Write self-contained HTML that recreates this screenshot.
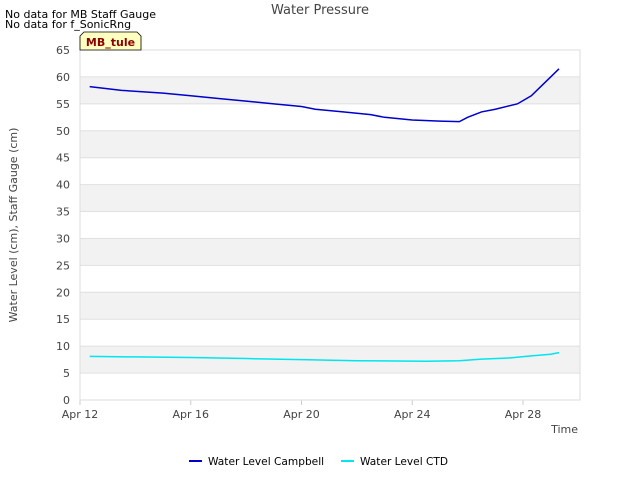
<!DOCTYPE html>
<html><head><meta charset="utf-8"><style>
body{margin:0;background:#fff;font-family:"Liberation Sans","DejaVu Sans",sans-serif}
svg text{font-family:"DejaVu Sans","Liberation Sans",sans-serif}
</style></head><body>
<svg width="640" height="480" viewBox="0 0 640 480">
<g id="bands"></g><g id="grid"></g><g id="series"></g><g id="axes"></g>
<text x="320" y="14" text-anchor="middle" font-size="13" fill="#444">Water Pressure</text>
<text x="5" y="18" font-size="11" fill="#000">No data for MB Staff Gauge</text>
<text x="5" y="28" font-size="11" fill="#000">No data for f_SonicRng</text>
<g>
<path d="M80,50 L80,36 L84,32 L137,32 L141,36 L141,50 Z" fill="#ffffc0" stroke="#000" stroke-width="0.8"/>
<text x="110.5" y="46" text-anchor="middle" font-size="11" font-weight="bold" fill="#8b0000">MB_tule</text>
</g>
<text transform="translate(17,225) rotate(-90)" text-anchor="middle" font-size="11" fill="#444">Water Level (cm), Staff Gauge (cm)</text>
<text x="578" y="433" text-anchor="end" font-size="11" fill="#444">Time</text>
<g><line x1="189" y1="461" x2="202" y2="461" stroke="#0000cc" stroke-width="2"/><text x="208" y="465" font-size="10.6" fill="#000">Water Level Campbell</text></g>
<g><line x1="341" y1="461" x2="354" y2="461" stroke="#00e5ee" stroke-width="2"/><text x="360" y="465" font-size="10.6" fill="#000">Water Level CTD</text></g>
</svg>
<script>
const xTickLabels=["Apr 12","Apr 16","Apr 20","Apr 24","Apr 28"];
const xTickDays=[12,16,20,24,28];
const yTicks=[0,5,10,15,20,25,30,35,40,45,50,55,60,65];
const campbellDays=[12.35,13.5,15,16,17,18,19,20,20.5,21.5,22.5,23,24,25,25.7,26,26.5,27,27.8,28.3,28.6,29,29.3];
const campbellVals=[58.2,57.5,57,56.5,56,55.5,55,54.5,54,53.5,53,52.5,52,51.8,51.7,52.5,53.5,54,55,56.5,58,60,61.5];
const ctdDays=[12.35,14,16,18,20,22,24.5,25.7,26.5,27.5,28.3,29,29.3];
const ctdVals=[8.1,8.0,7.9,7.7,7.5,7.3,7.2,7.3,7.6,7.8,8.2,8.5,8.8];
const X0=80,X1=580,Y0=400,Y1=50;
const xs=d=>X0+(d-12)*(523-80)/16;
const ys=v=>Y0-v*(Y0-Y1)/65;
const NS="http://www.w3.org/2000/svg";
function mk(p,t,a){const e=document.createElementNS(NS,t);for(const k in a)e.setAttribute(k,a[k]);p.appendChild(e);return e;}
const bands=document.getElementById('bands'),grid=document.getElementById('grid'),ser=document.getElementById('series'),ax=document.getElementById('axes');
for(let i=0;i<yTicks.length-1;i++){
 if(i%2===1){const r=mk(bands,'rect',{x:X0,y:ys(yTicks[i+1]),width:X1-X0,height:ys(yTicks[i])-ys(yTicks[i+1]),fill:'#f2f2f2'});
 
 }
}
yTicks.forEach(v=>{
 const l=mk(grid,'line',{x1:X0,x2:X1,y1:ys(v),y2:ys(v),stroke:'#e0e0e0'});
 
 
 const t=mk(ax,'text',{x:X0-10,y:ys(v)+4,'text-anchor':'end','font-size':11,fill:'#444'});t.textContent=v;
 
 
});
xTickDays.forEach((d,i)=>{
 const l=mk(ax,'line',{x1:xs(d),x2:xs(d),y1:Y0,y2:Y0+5,stroke:'#ccc'});
 
 
 const t=mk(ax,'text',{x:xs(d),y:Y0+18,'text-anchor':'middle','font-size':11,fill:'#444'});t.textContent=xTickLabels[i];
 
 
});
const fr=mk(ax,'rect',{x:X0,y:Y1,width:X1-X0,height:Y0-Y1,fill:'none',stroke:'#ddd'});


function line(days,vals,col,name){
 const p=mk(ser,'polyline',{points:days.map((d,i)=>xs(d)+','+ys(vals[i])).join(' '),fill:'none',stroke:col,'stroke-width':1.5});
 
 
}
line(campbellDays,campbellVals,'#0000cc','campbell-line');
line(ctdDays,ctdVals,'#00e5ee','ctd-line');
</script>
</body></html>
